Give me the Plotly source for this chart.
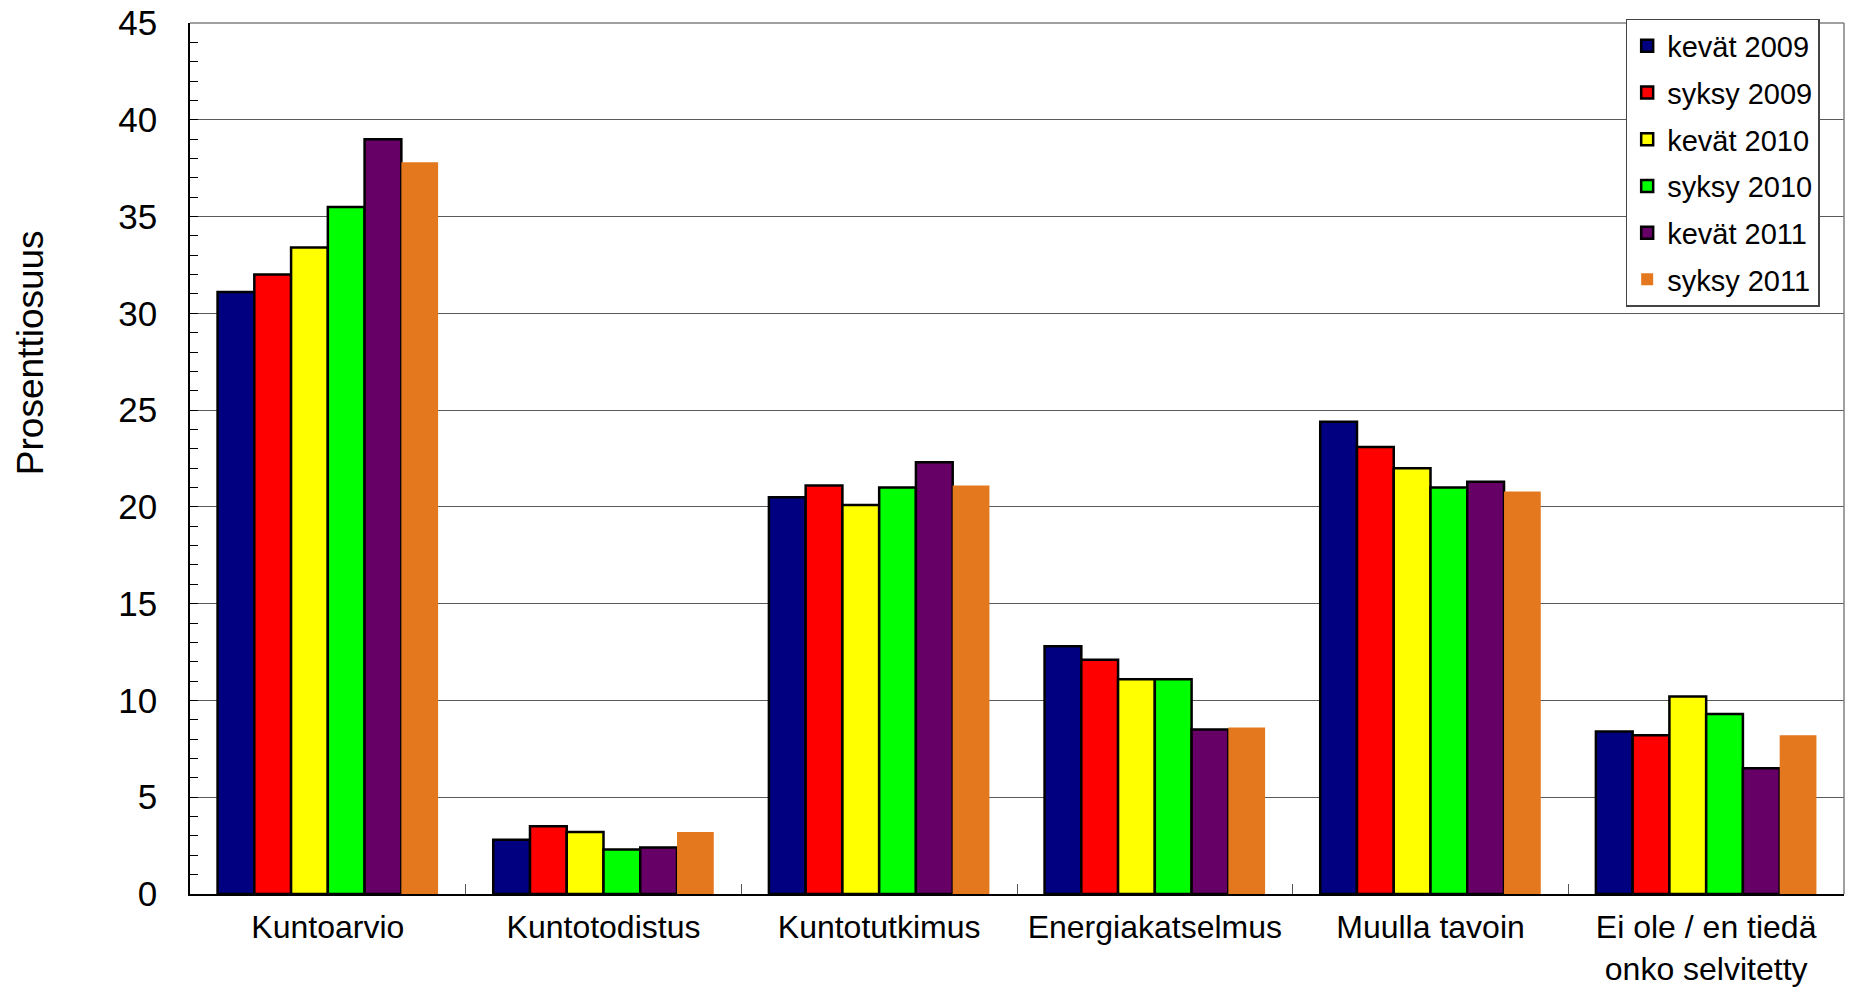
import plotly.graph_objects as go

categories = ["Kuntoarvio", "Kuntotodistus", "Kuntotutkimus", "Energiakatselmus",
              "Muulla tavoin", "Ei ole / en tiedä<br>onko selvitetty"]
series_names = ["kevät 2009", "syksy 2009", "kevät 2010", "syksy 2010", "kevät 2011", "syksy 2011"]
kevat_2009 = [31.1, 2.8, 20.5, 12.8, 24.4, 8.4]
syksy_2009 = [32.0, 3.5, 21.1, 12.1, 23.1, 8.2]
kevat_2010 = [33.4, 3.2, 20.1, 11.1, 22.0, 10.2]
syksy_2010 = [35.5, 2.3, 21.0, 11.1, 21.0, 9.3]
kevat_2011 = [39.0, 2.4, 22.3, 8.5, 21.3, 6.5]
syksy_2011 = [37.8, 3.2, 21.1, 8.6, 20.8, 8.2]
y_ticks = [0, 5, 10, 15, 20, 25, 30, 35, 40, 45]

colors = ["#000080", "#FF0000", "#FFFF00", "#00FF00", "#660066", "#E3781E"]
series = [kevat_2009, syksy_2009, kevat_2010, syksy_2010, kevat_2011, syksy_2011]

FONT = "Liberation Sans, Arial, sans-serif"

fig = go.Figure()
for i, (name, vals) in enumerate(zip(series_names, series)):
    has_border = i < 5
    fig.add_trace(go.Bar(
        x=categories, y=vals, name=name, legendgroup=name,
        marker=dict(color=colors[i],
                    line=dict(color="#000000", width=2.5 if has_border else 0)),
    ))

fig.update_layout(
    width=1852, height=988,
    margin=dict(l=190, r=8, t=23, b=94),
    paper_bgcolor="white", plot_bgcolor="white",
    barmode="group", bargap=0.2, bargroupgap=0,
    font=dict(family=FONT, color="#000000"),
    showlegend=True,
    legend=dict(
        x=0.868, y=1.0046, xanchor="left", yanchor="top",
        bgcolor="white", bordercolor="#444444", borderwidth=1.5,
        font=dict(size=29, family=FONT, color="#000000"),
        tracegroupgap=6, itemwidth=30,
    ),
    annotations=[dict(
        text="Prosenttiosuus", xref="paper", yref="paper",
        x=-0.0968, y=0.622, xanchor="center", yanchor="middle",
        textangle=-90, showarrow=False,
        font=dict(size=37, family=FONT, color="#000000"),
    )],
)

fig.update_yaxes(
    range=[0, 45], tickvals=y_ticks, ticktext=[str(v) for v in y_ticks],
    showgrid=True, gridcolor="#5a5a5a", gridwidth=1,
    showline=True, linecolor="#000000", linewidth=1.5, mirror=False,
    ticks="inside", ticklen=8, tickcolor="#000000", tickwidth=1,
    minor=dict(dtick=1, ticks="inside", ticklen=8, tickcolor="#000000", tickwidth=1, showgrid=False),
    tickfont=dict(size=35, family=FONT, color="#000000"),
    ticklabelstandoff=24, zeroline=False, automargin=False,
    ticklabeloverflow="allow",
)
fig.update_xaxes(
    showline=True, linecolor="#000000", linewidth=1.5,
    ticks="inside", tickson="boundaries", ticklen=10, tickcolor="#555555", tickwidth=1,
    tickfont=dict(size=32, family=FONT, color="#000000"),
    ticklabelstandoff=4, showgrid=False, automargin=False,
    ticklabeloverflow="allow",
)

# top and right frame in gray
fig.add_shape(type="line", xref="paper", yref="paper", x0=0, x1=1, y0=1, y1=1,
              line=dict(color="#808080", width=1.5))
fig.add_shape(type="line", xref="paper", yref="paper", x0=1, x1=1, y0=0, y1=1,
              line=dict(color="#808080", width=1.5))

# remove the browser's default page margin so the figure fills the window exactly
fig.write_html("out.html",
               config={"displayModeBar": False},
               post_script="document.body.style.margin='0';document.body.style.overflow='hidden';")
